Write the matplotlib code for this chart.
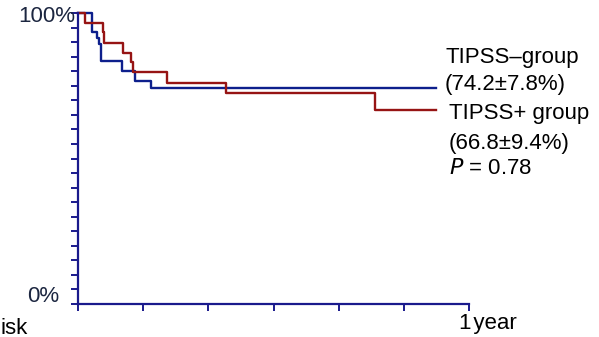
import matplotlib
matplotlib.use("Agg")
import matplotlib.pyplot as plt

AXIS_COLOR  = "#1a1a8c"
LABEL_COLOR = "#1c2640"
BLUE        = "#0d1f8c"
RED         = "#961414"

# Kaplan-Meier step data: months since start, survival (%)
minus_months   = [0, 0.42, 0.57, 0.65, 0.71, 1.36, 1.75, 2.23, 11.0]
minus_survival = [100, 93.3, 91.5, 89.3, 83.6, 80.1, 76.7, 74.2, 74.2]

plus_months   = [0, 0.21, 0.78, 0.81, 1.39, 1.63, 1.70, 2.72, 4.53, 9.1, 11.0]
plus_survival = [100, 96.5, 93.3, 89.6, 86.4, 83.0, 79.6, 75.9, 72.4, 66.8, 66.8]

x_ticks = [0, 2, 4, 6, 8, 10, 12]
y_ticks = list(range(0, 101, 5))

plt.rcParams["font.family"] = ["Liberation Sans", "DejaVu Sans"]

fig = plt.figure(figsize=(5.99, 3.37), dpi=100)
ax = fig.add_axes([78 / 599, 33 / 337, 391 / 599, 291 / 337])

ax.step(minus_months, minus_survival, where="post", color=BLUE, lw=1.7, clip_on=False)
ax.step(plus_months, plus_survival, where="post", color=RED, lw=1.7, clip_on=False)

ax.set_xlim(0, 12)
ax.set_ylim(0, 100)
ax.set_xticks(x_ticks)
ax.set_xticklabels([])
ax.set_yticks(y_ticks)
ax.set_yticklabels([])

for side in ("top", "right"):
    ax.spines[side].set_visible(False)
for side in ("left", "bottom"):
    ax.spines[side].set_color(AXIS_COLOR)
    ax.spines[side].set_linewidth(1.6)
ax.tick_params(colors=AXIS_COLOR, width=1.4, length=5)

# Axis end labels
fig.text(75 / 599, 1 - 17 / 337, "100%", fontsize=16, color=LABEL_COLOR,
         ha="right", va="center")
fig.text(59 / 599, 1 - 297 / 337, "0%", fontsize=16, color=LABEL_COLOR,
         ha="right", va="center")

# Group annotations on the right
txt = dict(fontsize=16, color="black", va="center")
fig.text(445 / 599, 1 - 57 / 337, "TIPSS\u2013group", **txt)
fig.text(445 / 599, 1 - 85 / 337, "(74.2\u00b17.8%)", **txt)
fig.text(449 / 599, 1 - 114 / 337, "TIPSS+ group", **txt)
fig.text(449 / 599, 1 - 143 / 337, "(66.8\u00b19.4%)", **txt)
fig.text(449 / 599, 1 - 169 / 337, "$P$ = 0.78", **txt)

fig.text(459 / 599, 1 - 324 / 337, "1\u200ayear", fontsize=16, color="black", va="center")
fig.text(0, 1 - 328 / 337, "isk", fontsize=16, color="black", ha="left", va="center")

fig.savefig("out.png", dpi=100)
